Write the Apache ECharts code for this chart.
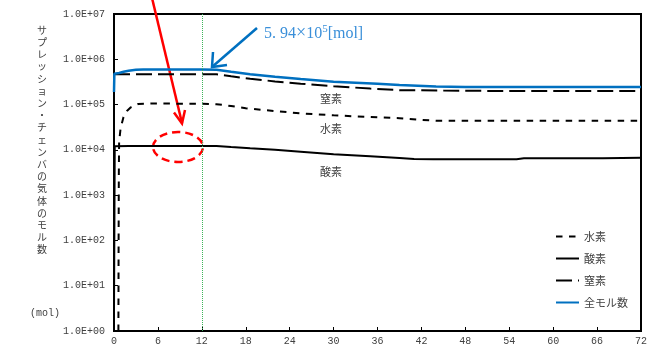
<!DOCTYPE html>
<html>
<head>
<meta charset="utf-8">
<script src="https://cdn.jsdelivr.net/npm/echarts@6/dist/echarts.min.js"></script>
<style>
html,body{margin:0;padding:0;background:#fff;}
#c{width:671px;height:346px;}
</style>
</head>
<body>
<div id="c"></div>
<script>
// ---- data (time in hours, moles) ----
const xTicks = [0, 6, 12, 18, 24, 30, 36, 42, 48, 54, 60, 66, 72];
const yTickLabels = ['1.0E+00','1.0E+01','1.0E+02','1.0E+03','1.0E+04','1.0E+05','1.0E+06','1.0E+07'];

const hydrogen = [[0.6,1],[0.63,1e2],[0.66,3e3],[0.7,1.5e4],[0.9,3e4],[1.3,5.3e4],[1.8,7.3e4],[2.3,8.7e4],[3.3,1.03e5],[5,1.05e5],[8,1.05e5],[12,1.04e5],[14,1.02e5],[16,9.3e4],[18,8.3e4],[22,7.2e4],[26,6.3e4],[30,5.8e4],[35,5.3e4],[39,5.0e4],[42,4.6e4],[44,4.4e4],[72,4.4e4]];
const oxygen = [[0,3],[0.1,1.2e4],[2,1.22e4],[14,1.22e4],[16,1.15e4],[18.6,1.08e4],[22,1.0e4],[25.5,9.1e3],[30,8.0e3],[35,7.2e3],[39,6.6e3],[41,6.3e3],[43.6,6.2e3],[55,6.2e3],[56,6.5e3],[66.8,6.5e3],[67,6.7e3],[72,6.7e3]];
const nitrogen = [[0,4.65e5],[14,4.65e5],[16,4.2e5],[18.6,3.7e5],[22,3.25e5],[25.5,2.9e5],[30,2.55e5],[35,2.25e5],[39,2.08e5],[45,2.04e5],[52,2.0e5],[72,2.0e5]];
const total = [[0,1.9e5],[0.05,4.8e5],[0.7,5.0e5],[1.3,5.3e5],[2,5.6e5],[3,5.85e5],[4,5.94e5],[12,5.94e5],[14,5.9e5],[16,5.3e5],[18.6,4.7e5],[22,4.1e5],[25.5,3.65e5],[30,3.2e5],[36,2.9e5],[39,2.7e5],[44,2.5e5],[48,2.45e5],[72,2.45e5]];
const seriesNames = ['水素','酸素','窒素','全モル数'];
const markTime = 12;

const yTitle = 'サプレッション・チェンバの気体のモル数';

const chart = echarts.init(document.getElementById('c'), null, {renderer:'canvas'});
const gray = '#404040';
const jp = '"Noto Sans CJK JP", sans-serif';
const mono = '"Liberation Mono", monospace';

chart.setOption({
  animation: false,
  backgroundColor: '#fff',
  grid: {left:114, right:30, top:14, bottom:15, show:true, borderColor:'#000', borderWidth:2, backgroundColor:'transparent'},
  xAxis: {
    type:'value', min:0, max:72, interval:6,
    axisLine:{show:true, lineStyle:{color:'#000', width:2}},
    axisTick:{show:true, inside:true, length:4, lineStyle:{color:'#000'}},
    axisLabel:{color:gray, fontFamily:mono, fontSize:10, margin:5,
      formatter: v => xTicks.indexOf(v) >= 0 ? String(v) : ''},
    splitLine:{show:false}
  },
  yAxis: {
    type:'log', logBase:10, min:1, max:1e7,
    axisLine:{show:true, lineStyle:{color:'#000', width:2}},
    axisTick:{show:true, inside:true, length:4, lineStyle:{color:'#000'}},
    axisLabel:{color:gray, fontFamily:mono, fontSize:10, margin:9,
      formatter: v => yTickLabels[Math.round(Math.log10(v))] || ''},
    minorTick:{show:false},
    splitLine:{show:false}
  },
  legend: {
    orient:'vertical', left:550, top:226, itemWidth:23, itemHeight:10, itemGap:11,
    data: seriesNames,
    itemStyle:{opacity:0, borderWidth:0},
    textStyle:{color:gray, fontFamily:jp, fontSize:11}
  },
  series: [
    {name:seriesNames[0], type:'line', data:hydrogen, symbol:'none',
     lineStyle:{color:'#000', width:2, type:[6.5,6.5]}, itemStyle:{color:'#000'}},
    {name:seriesNames[1], type:'line', data:oxygen, symbol:'none',
     lineStyle:{color:'#000', width:2, type:'solid'}, itemStyle:{color:'#000'}},
    {name:seriesNames[2], type:'line', data:nitrogen, symbol:'none',
     lineStyle:{color:'#000', width:2, type:[16,6]}, itemStyle:{color:'#000'}},
    {name:seriesNames[3], type:'line', data:total, symbol:'none',
     lineStyle:{color:'#0070c0', width:2.5}, itemStyle:{color:'#0070c0'},
     markLine:{silent:true, symbol:'none', label:{show:false},
       lineStyle:{color:'#3cb45a', type:'dotted', width:1},
       data:[{xAxis:markTime}]}}
  ],
  graphic: [
    // y title (vertical)
    {type:'text', x:42, y:24, style:{text: yTitle.split('').join('\n'), fill:gray, font:'10px '+jp, lineHeight:12.2, align:'center'}},
    {type:'text', x:45, y:313, style:{text:'(mol)', fill:gray, font:'10px '+mono, align:'center', verticalAlign:'middle'}},
    // curve labels
    {type:'text', x:331, y:99, style:{text:'窒素', fill:gray, font:'11px '+jp, align:'center', verticalAlign:'middle'}},
    {type:'text', x:331, y:129, style:{text:'水素', fill:gray, font:'11px '+jp, align:'center', verticalAlign:'middle'}},
    {type:'text', x:331, y:172, style:{text:'酸素', fill:gray, font:'11px '+jp, align:'center', verticalAlign:'middle'}},
    // annotation text
    {type:'text', x:264, y:33, style:{
      text:'{a|5. 94}{x|×}{a|10}{s|5}{a|[mol]}', verticalAlign:'middle',
      rich:{a:{fill:'#3a8fd9', font:'16px "Liberation Serif", serif', verticalAlign:'bottom', lineHeight:18},
            x:{fill:'#3a8fd9', font:'18px "Liberation Serif", serif', verticalAlign:'bottom', lineHeight:18},
            s:{fill:'#3a8fd9', font:'11px "Liberation Serif", serif', verticalAlign:'top', lineHeight:18}}}},
    // blue arrow
    {type:'line', shape:{x1:257, y1:28, x2:212, y2:67}, style:{stroke:'#0070c0', lineWidth:2.5}},
    {type:'polyline', shape:{points:[[213,52],[212,67],[227,65]]}, style:{stroke:'#0070c0', lineWidth:2.5, fill:null}},
    // red arrow
    {type:'line', shape:{x1:152, y1:-2, x2:182, y2:123}, style:{stroke:'#ff0000', lineWidth:2.5}},
    {type:'polyline', shape:{points:[[174,112.5],[182,123.5],[185,110]]}, style:{stroke:'#ff0000', lineWidth:2.5, fill:null}},
    // red dashed ellipse
    {type:'ellipse', shape:{cx:178, cy:147, rx:25, ry:15}, style:{stroke:'#ff0000', lineWidth:2.5, fill:null, lineDash:[8,5]}}
  ]
});
</script>
</body>
</html>
